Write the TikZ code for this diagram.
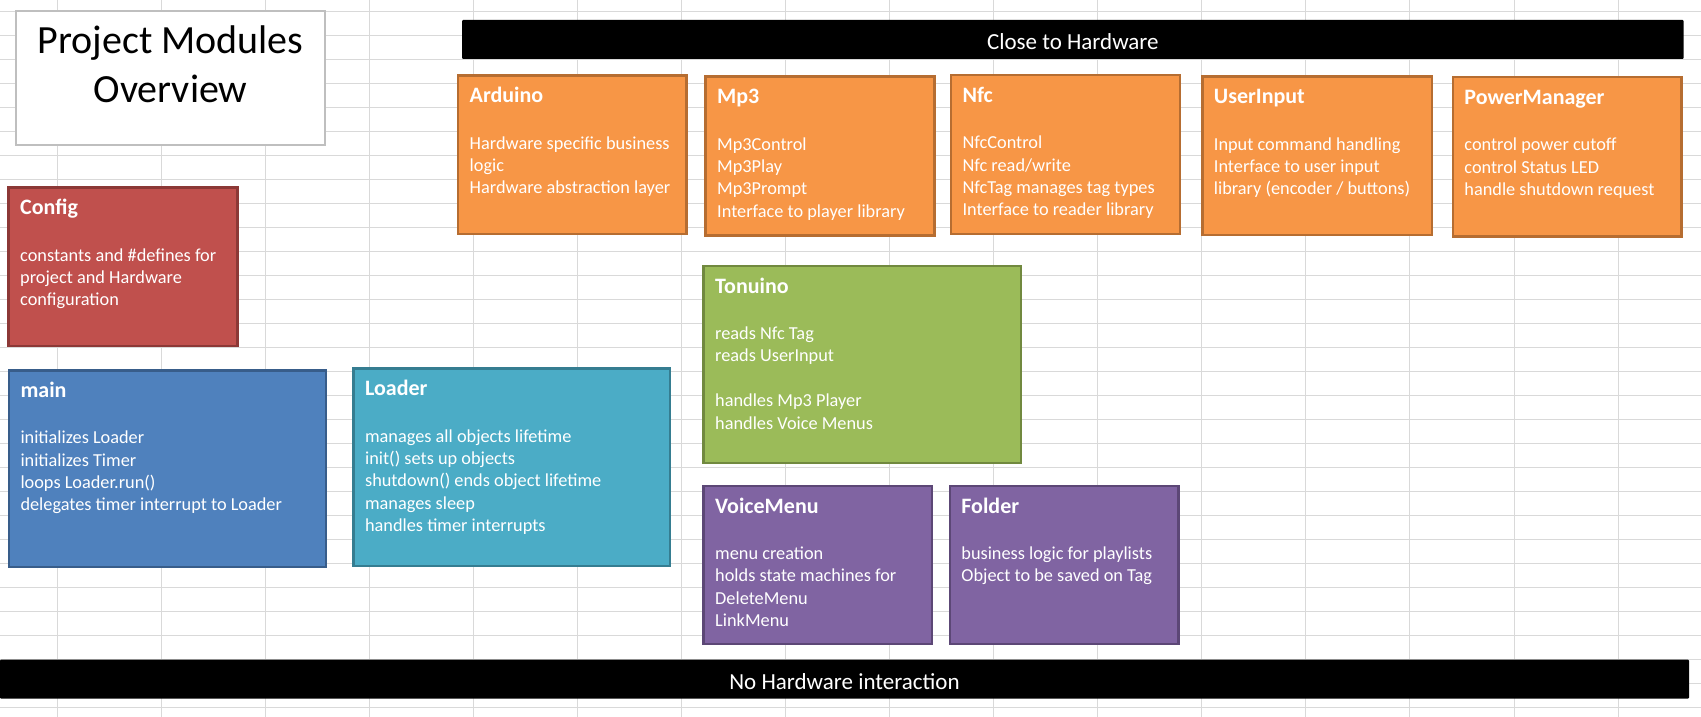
\documentclass[tikz,border=0pt]{standalone}
\usepackage{fontspec}
\setmainfont{Carlito}
\usepackage{xcolor}
\usetikzlibrary{positioning, calc}

\definecolor{gridGray}{HTML}{D9D9D9}
\definecolor{frameGray}{HTML}{BFBFBF}
\definecolor{orangeFill}{HTML}{F79646}
\definecolor{orangeLine}{HTML}{B66D31}
\definecolor{redFill}{HTML}{C0504D}
\definecolor{redLine}{HTML}{8C3836}
\definecolor{blueFill}{HTML}{4F81BD}
\definecolor{blueLine}{HTML}{385D8A}
\definecolor{aquaFill}{HTML}{4BACC6}
\definecolor{aquaLine}{HTML}{357D91}
\definecolor{greenFill}{HTML}{9BBB59}
\definecolor{greenLine}{HTML}{71893F}
\definecolor{purpleFill}{HTML}{8064A2}
\definecolor{purpleLine}{HTML}{5C4776}

% top aligned lines: the node's base is the first line
\newcommand{\modlines}[1]{\begin{tabular}[t]{@{}l@{}}#1\end{tabular}}
\newcommand{\headlines}[1]{\begin{tabular}[t]{@{}c@{}}#1\end{tabular}}

\tikzset{
  gridline/.style={draw=gridGray, line width=1pt},
  modbox/.style 2 args={draw=#2, fill=#1, line width=2.5pt, outer sep=1.25pt,
    inner sep=0pt, anchor=north west},
  modtitle/.style={anchor=base west, inner sep=0pt, text=white,
    font=\fontsize{22}{26}\selectfont\bfseries},
  modtext/.style={anchor=base west, inner sep=0pt, text=white,
    font=\fontsize{18.3}{22.4}\selectfont},
  hwbar/.style={fill=black, inner sep=0pt, outer sep=0pt, anchor=north west,
    rounded corners=1pt},
  bartext/.style={anchor=base, inner sep=0pt, text=white,
    font=\fontsize{23}{27}\selectfont},
}

\begin{document}
\begin{tikzpicture}[x=1pt, y=-1pt]

        \useasboundingbox (0,0) rectangle (1701,717);
        \fill[white] (0,0) rectangle (1701,717);

        % ==========================================
        % Sheet grid
        % ==========================================
        \foreach \gx in {0,...,15}
            \draw[gridline] (57.3+104.05*\gx, 0) -- ++(0,717);
        \foreach \gy in {0,...,29}
            \draw[gridline] (0, 11.7+24*\gy) -- ++(1701,0);

        % ==========================================
        % Heading
        % ==========================================
        \node[draw=frameGray, fill=white, line width=1.3pt, outer sep=0.65pt,
              anchor=north west, minimum width=309.1pt, minimum height=134.1pt]
              (overview) at (15.3,10.3) {};
        \node[anchor=base, inner sep=0pt, font=\fontsize{40}{48.5}\selectfont]
              (overviewText) at (170.5,54) {\headlines{Project Modules\\Overview}};

        % ==========================================
        % Hardware bars
        % ==========================================
        \node[hwbar, minimum width=1221.7pt, minimum height=39pt] (closeHw) at (462,20) {};
        \node[bartext] (closeHwText) at ($(closeHw.south)+(0,-9.7)$) {Close to Hardware};

        \node[hwbar, minimum width=1689pt, minimum height=39pt] (noHw) at (0,659.7) {};
        \node[bartext] (noHwText) at ($(noHw.south)+(0,-9.7)$) {No Hardware interaction};

        % ==========================================
        % Hardware modules (top row)
        % ==========================================
        \node[modbox={orangeFill}{orangeLine}, minimum width=228.2pt, minimum height=158.5pt]
              (arduino) at (456.8,74.3) {};
        \node[modtitle] (arduinoTitle) at ($(arduino.north west)+(12.7,28.5)$) {Arduino};
        \node[modtext] (arduinoText) at ($(arduino.north west)+(12.7,74.7)$)
              {\modlines{Hardware specific business\\logic\\Hardware abstraction layer}};

        \node[modbox={orangeFill}{orangeLine}, minimum width=228.9pt, minimum height=158.9pt]
              (mp3) at (704.3,75.3) {};
        \node[modtitle] (mp3Title) at ($(mp3.north west)+(12.7,28.5)$) {Mp3};
        \node[modtext] (mp3Text) at ($(mp3.north west)+(12.7,74.7)$)
              {\modlines{Mp3Control\\Mp3Play\\Mp3Prompt\\Interface to player library}};

        \node[modbox={orangeFill}{orangeLine}, minimum width=229pt, minimum height=158.5pt]
              (nfc) at (949.7,74) {};
        \node[modtitle] (nfcTitle) at ($(nfc.north west)+(12.7,28.5)$) {Nfc};
        \node[modtext] (nfcText) at ($(nfc.north west)+(12.7,74.7)$)
              {\modlines{NfcControl\\Nfc read/write\\NfcTag manages tag types\\Interface to reader library}};

        \node[modbox={orangeFill}{orangeLine}, minimum width=229.5pt, minimum height=158.5pt]
              (userInput) at (1201,75.3) {};
        \node[modtitle] (userInputTitle) at ($(userInput.north west)+(12.7,28.5)$) {UserInput};
        \node[modtext] (userInputText) at ($(userInput.north west)+(12.7,74.7)$)
              {\modlines{Input command handling\\Interface to user input\\library (encoder / buttons)}};

        \node[modbox={orangeFill}{orangeLine}, minimum width=228.5pt, minimum height=159.2pt]
              (powerManager) at (1451.5,76) {};
        \node[modtitle] (powerManagerTitle) at ($(powerManager.north west)+(12.7,28.5)$) {PowerManager};
        \node[modtext] (powerManagerText) at ($(powerManager.north west)+(12.7,74.7)$)
              {\modlines{control power cutoff\\control Status LED\\handle shutdown request}};

        % ==========================================
        % Application modules
        % ==========================================
        \node[modbox={redFill}{redLine}, minimum width=228.9pt, minimum height=158.5pt]
              (config) at (7.3,186.3) {};
        \node[modtitle] (configTitle) at ($(config.north west)+(12.7,28.5)$) {Config};
        \node[modtext] (configText) at ($(config.north west)+(12.7,74.7)$)
              {\modlines{constants and \#defines for\\project and Hardware\\configuration}};

        \node[modbox={greenFill}{greenLine}, minimum width=317.4pt, minimum height=196.8pt]
              (tonuino) at (702.3,264.7) {};
        \node[modtitle] (tonuinoTitle) at ($(tonuino.north west)+(12.7,28.5)$) {Tonuino};
        \node[modtext] (tonuinoText) at ($(tonuino.north west)+(12.7,74.7)$)
              {\modlines{reads Nfc Tag\\reads UserInput\\[22.4pt]handles Mp3 Player\\handles Voice Menus}};

        \node[modbox={blueFill}{blueLine}, minimum width=317.1pt, minimum height=196.8pt]
              (main) at (7.6,369) {};
        \node[modtitle] (mainTitle) at ($(main.north west)+(12.7,28.5)$) {main};
        \node[modtext] (mainText) at ($(main.north west)+(12.7,74.7)$)
              {\modlines{initializes Loader\\initializes Timer\\loops Loader.run()\\delegates timer interrupt to Loader}};

        \node[modbox={aquaFill}{aquaLine}, minimum width=316.3pt, minimum height=197.2pt]
              (loader) at (352.2,367.3) {};
        \node[modtitle] (loaderTitle) at ($(loader.north west)+(12.7,28.5)$) {Loader};
        \node[modtext] (loaderText) at ($(loader.north west)+(12.7,74.7)$)
              {\modlines{manages all objects lifetime\\init() sets up objects\\shutdown() ends object lifetime\\manages sleep\\handles timer interrupts}};

        \node[modbox={purpleFill}{purpleLine}, minimum width=228.6pt, minimum height=158.1pt]
              (voiceMenu) at (702.3,484.7) {};
        \node[modtitle] (voiceMenuTitle) at ($(voiceMenu.north west)+(12.7,28.5)$) {VoiceMenu};
        \node[modtext] (voiceMenuText) at ($(voiceMenu.north west)+(12.7,74.7)$)
              {\modlines{menu creation\\holds state machines for\\DeleteMenu\\LinkMenu}};

        \node[modbox={purpleFill}{purpleLine}, minimum width=228.6pt, minimum height=158.1pt]
              (folder) at (948.5,484.7) {};
        \node[modtitle] (folderTitle) at ($(folder.north west)+(12.7,28.5)$) {Folder};
        \node[modtext] (folderText) at ($(folder.north west)+(12.7,74.7)$)
              {\modlines{business logic for playlists\\Object to be saved on Tag}};

\end{tikzpicture}
\end{document}
